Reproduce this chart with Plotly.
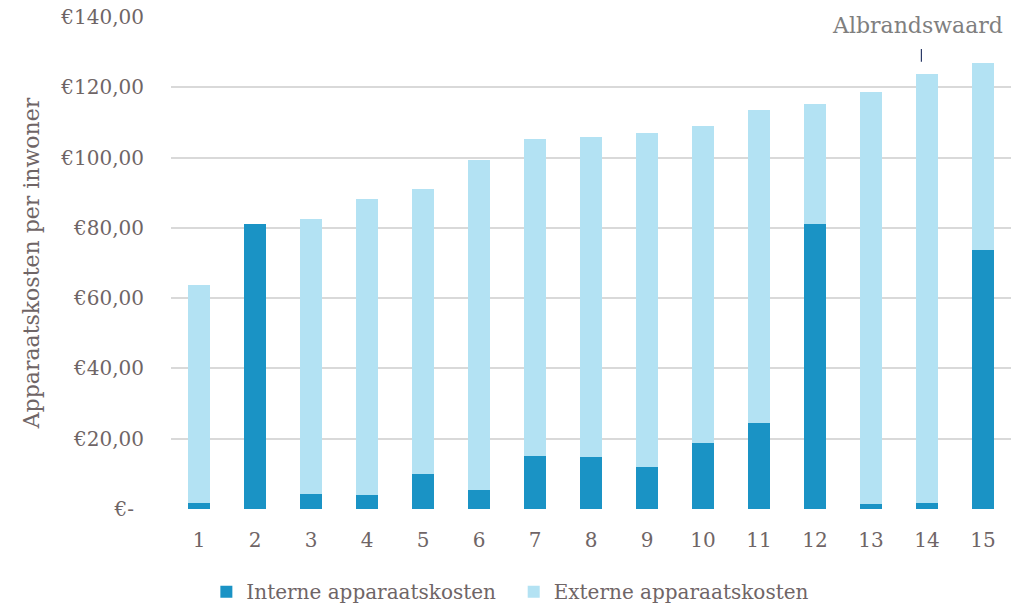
import plotly.graph_objects as go

categories = list(range(1, 16))
totaal = [63.7, 81.0, 82.6, 88.3, 91.2, 99.3, 105.2, 105.9, 107.0, 108.9, 113.6, 115.3, 118.6, 123.8, 126.9]
interne = [1.6, 81.0, 4.4, 4.1, 10.1, 5.3, 15.2, 14.7, 11.9, 18.9, 24.4, 81.2, 1.4, 1.8, 73.8]
externe = [round(t - i, 1) for t, i in zip(totaal, interne)]

y_tickvals = [0, 20, 40, 60, 80, 100, 120, 140]
y_ticktext = ["€-\u2002", "€20,00", "€40,00", "€60,00", "€80,00", "€100,00", "€120,00", "€140,00"]

FONT = "DejaVu Serif"
GREY = "#6f6566"

fig = go.Figure()
fig.add_trace(go.Bar(x=categories, y=interne, name="Interne apparaatskosten\u00a0\u00a0",
                     marker=dict(color="#1a93c5", line=dict(width=0))))
fig.add_trace(go.Bar(x=categories, y=externe, name="Externe apparaatskosten",
                     marker=dict(color="#b3e2f3", line=dict(width=0))))

fig.add_shape(type="line", xref="x", yref="y", x0=13.9, x1=13.9, y0=127.3, y1=130.9,
              line=dict(color="#2b3a67", width=1.2))
fig.add_annotation(x=14, y=137.7, xref="x", yref="y", text="Albrandswaard", showarrow=False,
                   xshift=-10, font=dict(family=FONT, size=22, color="#7f7f7f"))

fig.update_layout(
    barmode="stack",
    bargap=0.6,
    width=1028, height=606,
    margin=dict(l=171, r=17, t=17, b=97, autoexpand=False),
    paper_bgcolor="white", plot_bgcolor="white",
    font=dict(family=FONT, size=20, color=GREY),
    showlegend=True,
    legend=dict(orientation="h", x=0.404, xanchor="center", y=-0.168, yanchor="middle",
                font=dict(family=FONT, size=20, color=GREY), traceorder="normal",
                itemwidth=30),
    xaxis=dict(range=[0.5, 15.5], tickmode="array", tickvals=categories,
               ticktext=[str(c) for c in categories], showgrid=False, zeroline=False,
               showline=False, ticks="", ticklabelstandoff=17, automargin=False,
               tickfont=dict(family=FONT, size=20, color=GREY)),
    yaxis=dict(range=[0, 140], tickmode="array", tickvals=y_tickvals, ticktext=y_ticktext,
               showgrid=True, gridcolor="#d9d9d9", gridwidth=1.5, zeroline=False,
               showline=False, ticks="", ticklabelstandoff=26, automargin=False,
               tickfont=dict(family=FONT, size=20, color=GREY),
               title=dict(text="Apparaatskosten per inwoner", standoff=14,
                          font=dict(family=FONT, size=22, color=GREY))),
)

fig.write_html("out.html", config={"displayModeBar": False},
               post_script="document.body.style.margin='0';document.body.style.overflow='hidden';")
